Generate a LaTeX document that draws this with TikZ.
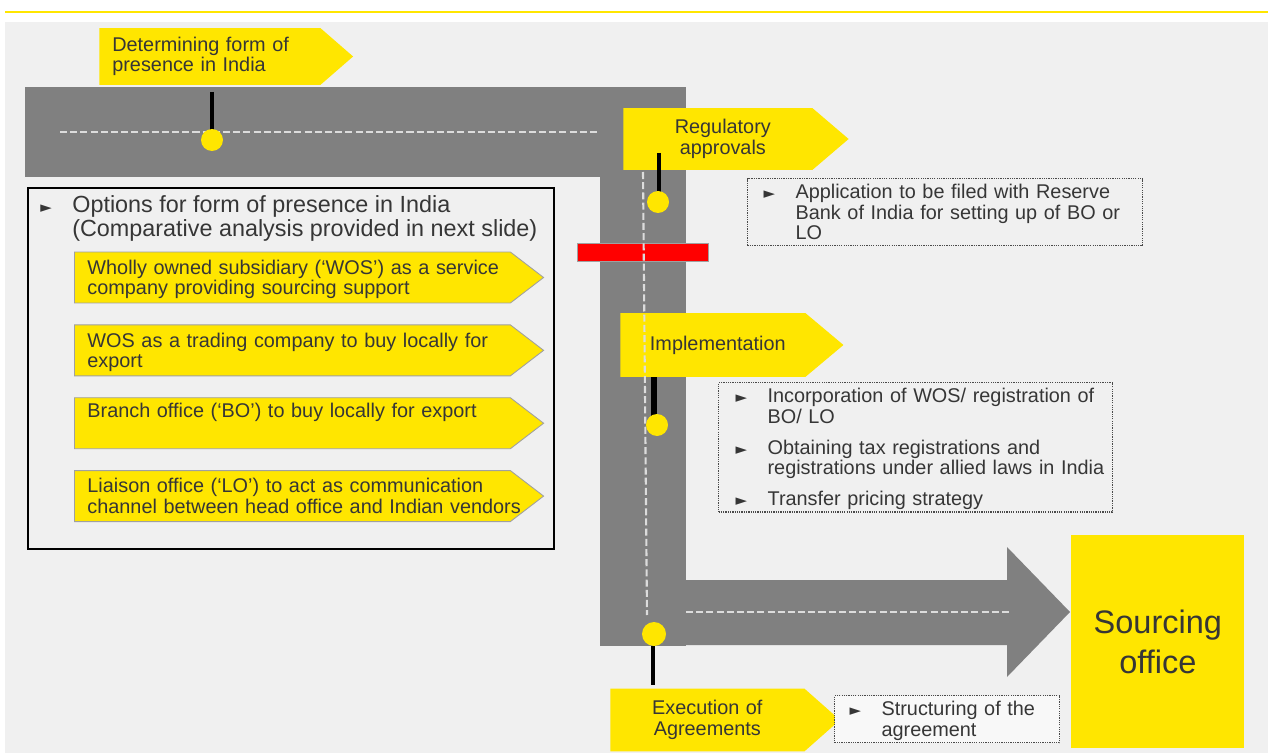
\documentclass[tikz,border=0pt]{standalone}
\usepackage{fontspec}
\setmainfont{Liberation Sans}
\newfontfamily\bulfont{DejaVu Sans}
\usetikzlibrary{shapes.symbols,positioning}

\definecolor{eyyellow}{HTML}{FFE600}
\definecolor{roadgray}{HTML}{808080}
\definecolor{bggray}{HTML}{F0F0F0}
\definecolor{txtgray}{HTML}{363636}
\definecolor{linegray}{HTML}{A0A0A0}
\definecolor{lanegray}{HTML}{DCDCDC}

\newcommand{\bul}{\makebox[0.64cm][l]{\bulfont\fontsize{8.5}{8.5}\selectfont\color{txtgray}►}}
\newcommand{\topgap}{\rule{0pt}{11.5pt}}

\begin{document}
\begin{tikzpicture}[x=0.02cm, y=-0.02cm,
  txt/.style={font=\fontsize{11.3}{11.6}\selectfont, text=txtgray},
  milestone/.style={txt, shape=signal, signal to=east, fill=eyyellow,
    inner xsep=0.26cm, inner ysep=0pt, align=center},
  option/.style={milestone, draw=linegray, line width=0.5pt, align=left,
    text width=8.2cm, minimum height=1.02cm, signal pointer angle=75},
  notebox/.style={txt, draw=txtgray!90, line width=0.7pt,
    dash pattern=on 0.7pt off 0.6pt, inner sep=0pt, align=left},
  road/.style={fill=roadgray},
  lane/.style={draw=lanegray, line width=1.2pt, dash pattern=on 4pt off 1.8pt},
  pin/.style={line width=2.4pt, black},
  dot/.style={fill=eyyellow}]
\useasboundingbox (0,0) rectangle (1268,753);
\fill[white] (0,0) rectangle (1268,753);
\fill[bggray] (5,22) rectangle (1268,753);
\draw[eyyellow, line width=1.7pt] (5,12) -- (1268,12);

% the road
\fill[road] (25,87) rectangle (686,177);
\fill[road] (600,87) rectangle (686,646);
\fill[road] (686,580) -- (1007,580) -- (1007,547) -- (1070,612)
  -- (1007,677) -- (1007,645) -- (686,645) -- cycle;
\fill[red, draw=linegray] (577,243) rectangle (708,261);

% milestones
\node[milestone, align=left, text width=3.9cm, minimum height=1.14cm,
  signal pointer angle=82, anchor=west] (form) at (99,56.5)
  {Determining form of\\presence in India};
\node[milestone, text width=3.26cm, minimum height=1.24cm,
  signal pointer angle=81, anchor=west] (reg) at (623,139)
  {\hspace*{0.2cm}Regulatory\\\hspace*{0.2cm}approvals};
\node[milestone, text width=3.18cm, minimum height=1.28cm,
  signal pointer angle=80, anchor=west] (impl) at (620,345)
  {\hspace*{0.2cm}Implementation};
\node[milestone, text width=3.36cm, minimum height=1.26cm,
  signal pointer angle=83, anchor=west] (exec) at (610,720)
  {Execution of\\Agreements};

% lanes and pins
\draw[lane] (60,132) -- (600,132);
\draw[lane] (643,172) -- (647,615);
\draw[lane] (686,612) -- (1012,612);
\draw[pin] (212,92) -- (212,130);
\fill[dot] (212,140) circle [radius=11];
\draw[pin] (659,153) -- (659,192);
\fill[dot] (658,202) circle [radius=11];
\draw[pin, line width=3.6pt] (654,377) -- (654,416);
\fill[dot] (657,425) circle [radius=11];
\draw[pin] (653,646) -- (653,685);
\fill[dot] (654,634) circle [radius=12];

% forms of presence
\node[draw=black, line width=1pt, minimum width=10.52cm, minimum height=7.22cm,
  inner sep=0pt, anchor=north west] (optbox) at (27,187) {};
\node[anchor=north west, inner sep=0pt, text=txtgray,
  font=\fontsize{13.3}{13.4}\selectfont] (opttxt) at (40,195)
  {\begin{tabular}{@{}l@{}l@{}}
   \bul & Options for form of presence in India\\
   & (Comparative analysis provided in next slide)
   \end{tabular}};
\node[option, anchor=west] (wos) at (74,277.5)
  {\begin{tabular}{@{}l@{}}\topgap Wholly owned subsidiary (‘WOS’) as a service\\
   company providing sourcing support\end{tabular}};
\node[option, below=0.42cm of wos] (trade)
  {\begin{tabular}{@{}l@{}}\topgap WOS as a trading company to buy locally for\\
   export\end{tabular}};
\node[option, below=0.42cm of trade] (branch)
  {\begin{tabular}{@{}l@{}}Branch office (‘BO’) to buy locally for export\\
   \mbox{}\end{tabular}};
\node[option, below=0.42cm of branch] (liaison)
  {\begin{tabular}{@{}l@{}}\topgap Liaison office (‘LO’) to act as communication\\
   channel between head office and Indian vendors\end{tabular}};

% notes
\node[notebox, text width=7.9cm, minimum height=1.32cm, anchor=north west]
  (rbi) at (747,178)
  {\begin{tabular}{@{\hspace{0.32cm}}l@{}l@{}}
   \topgap\bul & Application to be filed with Reserve\\
   & Bank of India for setting up of BO or\\
   & LO
   \end{tabular}};
\node[notebox, text width=7.88cm, minimum height=2.56cm, anchor=north west]
  (steps) at (718,382)
  {\begin{tabular}{@{\hspace{0.34cm}}l@{}l@{}}
   \topgap\bul & Incorporation of WOS/ registration of\\
   & BO/ LO\\[6pt]
   \bul & Obtaining tax registrations and\\
   & registrations under allied laws in India\\[6pt]
   \bul & Transfer pricing strategy
   \end{tabular}};
\node[notebox, fill=white!50!bggray, text width=4.5cm, minimum height=0.94cm,
  anchor=north west] (deal) at (834,695)
  {\begin{tabular}{@{\hspace{0.3cm}}l@{}l@{}}
   \topgap\bul & Structuring of the\\
   & agreement
   \end{tabular}};

\node[fill=eyyellow, minimum width=3.46cm, minimum height=4.26cm, align=center,
  anchor=north west, text=txtgray, font=\fontsize{18.5}{22.7}\selectfont]
  (office) at (1071,535) {Sourcing\\office};
\end{tikzpicture}
\end{document}
